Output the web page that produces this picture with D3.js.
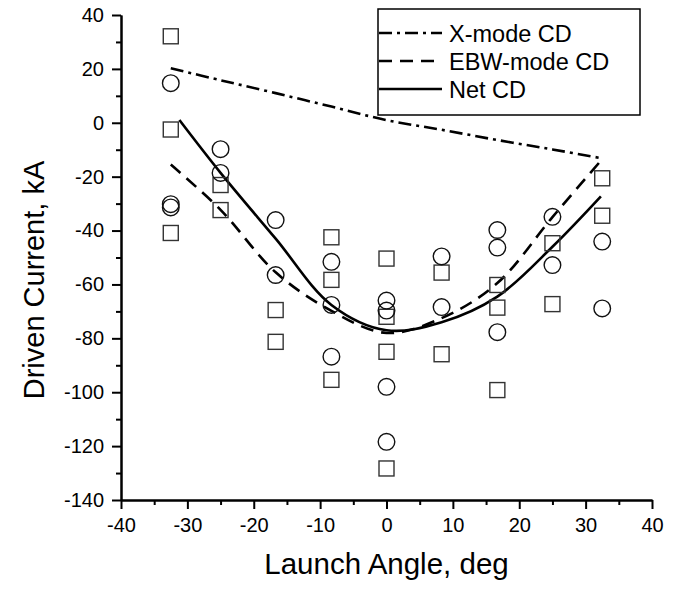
<!DOCTYPE html>
<html>
<head>
<meta charset="utf-8">
<script src="https://cdn.jsdelivr.net/npm/d3@7"></script>
<style>
  body { margin: 0; background: #fff; }
  text { font-family: "Liberation Sans", Arial, Helvetica, sans-serif; fill: #000; }
</style>
</head>
<body>
<div id="chart"></div>
<script>
// launch angles of the scan (deg)
const angles = [-32.5, -25, -16.7, -8.3, 0, 8.3, 16.7, 25, 32.5];

// measured points per angle, kA
const squareVals = [
    [32.1, -2.5, -40.9],
    [-23.1, -32.4],
    [-69.5, -81.3],
    [-42.5, -58.3, -95.4],
    [-50.4, -72, -85, -128.3],
    [-55.6, -85.9],
    [-60.2, -68.6, -99.2],
    [-44.7, -67.3],
    [-20.6, -34.5]
];
const circleVals = [
    [14.7, -30.2, -31.4],
    [-9.8, -18.6],
    [-36.1, -56.5],
    [-51.6, -67.6, -86.8],
    [-66, -69.7, -98, -118.4],
    [-49.6, -68.4],
    [-39.8, -46.3, -77.7],
    [-34.9, -52.8],
    [-44.1, -68.9]
];

// model curves
const xmodeVals = [20.2, 15.8, 11.0, 6.0, 1.0, -2.6, -6.4, -9.9, -13.2];
const ebwVals = [-15.5, -32.3, -55.5, -69.8, -78, -72.5, -59.5, -35, -13.5];
const netAngles = [-31.2, -25, -16.7, -8.3, 0, 8.3, 16.7, 25, 32.3];
const netVals = [1.0, -18.6, -43, -67.6, -77, -74, -64.5, -46, -27.3];

const xTicks = [-40, -30, -20, -10, 0, 10, 20, 30, 40];
const yTicks = [40, 20, 0, -20, -40, -60, -80, -100, -120, -140];
const legendNames = ['X-mode CD', 'EBW-mode CD', 'Net CD'];

const width = 683, height = 593;
const plot = {left: 121, right: 652, top: 15, bottom: 500};

const svg = d3.select('#chart').append('svg')
    .attr('width', width)
    .attr('height', height);

const x = d3.scaleLinear().domain([-40, 40]).range([plot.left, plot.right]);
const y = d3.scaleLinear().domain([-140, 40]).range([plot.bottom, plot.top]);

// minor ticks first, then major with labels
const xMinor = d3.range(-35, 40, 10);
const yMinor = d3.range(-130, 40, 20);
const plain = d => String(d); // hyphen minus, like the original

const styleAxis = (g) => {
    g.select('.domain').attr('stroke-width', 2);
    g.selectAll('.tick line').attr('stroke-width', 2);
    g.selectAll('text').attr('font-size', 20).attr('font-family', null);
};

svg.append('g')
    .attr('transform', `translate(0,${plot.bottom})`)
    .call(d3.axisBottom(x).tickValues(xMinor).tickSize(5).tickSizeOuter(0).tickFormat(''))
    .call(styleAxis);
svg.append('g')
    .attr('transform', `translate(0,${plot.bottom})`)
    .call(d3.axisBottom(x).tickValues(xTicks).tickSize(9).tickSizeOuter(0).tickPadding(9).tickFormat(plain))
    .call(styleAxis);

svg.append('g')
    .attr('transform', `translate(${plot.left},0)`)
    .call(d3.axisLeft(y).tickValues(yMinor).tickSize(5).tickSizeOuter(0).tickFormat(''))
    .call(styleAxis);
svg.append('g')
    .attr('transform', `translate(${plot.left},0)`)
    .call(d3.axisLeft(y).tickValues(yTicks).tickSize(9).tickSizeOuter(0).tickPadding(8).tickFormat(plain))
    .call(styleAxis);

// axis titles
svg.append('text')
    .attr('x', (plot.left + plot.right) / 2)
    .attr('y', 574)
    .attr('text-anchor', 'middle')
    .attr('font-size', 29.5)
    .text('Launch Angle, deg');

svg.append('text')
    .attr('transform', 'translate(44,280) rotate(-90)')
    .attr('text-anchor', 'middle')
    .attr('font-size', 29)
    .text('Driven Current, kA');

// curves
const line = d3.line()
    .x(d => x(d[0]))
    .y(d => y(d[1]))
    .curve(d3.curveCatmullRom.alpha(0.5));

const curves = [
    {pts: d3.zip(angles, xmodeVals), dash: '13,5,3,5'},
    {pts: d3.zip(angles, ebwVals), dash: '13,8'},
    {pts: d3.zip(netAngles, netVals), dash: null}
];

svg.selectAll('.curve')
    .data(curves)
    .enter()
    .append('path')
    .attr('class', 'curve')
    .attr('d', d => line(d.pts))
    .attr('fill', 'none')
    .attr('stroke', '#000')
    .attr('stroke-width', 2.6)
    .attr('stroke-dasharray', d => d.dash);

// markers
const squares = angles.flatMap((a, i) => squareVals[i].map(v => [a, v]));
const circles = angles.flatMap((a, i) => circleVals[i].map(v => [a, v]));

svg.selectAll('.sq')
    .data(squares)
    .enter()
    .append('rect')
    .attr('class', 'sq')
    .attr('x', d => x(d[0]) - 7.5)
    .attr('y', d => y(d[1]) - 7.5)
    .attr('width', 15)
    .attr('height', 15)
    .attr('fill', 'none')
    .attr('stroke', '#333')
    .attr('stroke-width', 1.4);

svg.selectAll('.circ')
    .data(circles)
    .enter()
    .append('circle')
    .attr('class', 'circ')
    .attr('cx', d => x(d[0]))
    .attr('cy', d => y(d[1]))
    .attr('r', 8.3)
    .attr('fill', 'none')
    .attr('stroke', '#111')
    .attr('stroke-width', 1.4);

// legend
const legend = svg.append('g');
legend.append('rect')
    .attr('x', 378).attr('y', 9)
    .attr('width', 262).attr('height', 106)
    .attr('fill', '#fff')
    .attr('stroke', '#000')
    .attr('stroke-width', 1.5);

const rows = legend.selectAll('.row')
    .data(legendNames)
    .enter()
    .append('g')
    .attr('transform', (d, i) => `translate(0,${33 + i * 28})`);

rows.append('line')
    .attr('x1', 379).attr('x2', 442)
    .attr('stroke', '#000')
    .attr('stroke-width', 2.6)
    .attr('stroke-dasharray', (d, i) => curves[i].dash);

rows.append('text')
    .attr('x', 449)
    .attr('y', 8.5)
    .attr('font-size', 23.5)
    .text(d => d);
</script>
</body>
</html>
